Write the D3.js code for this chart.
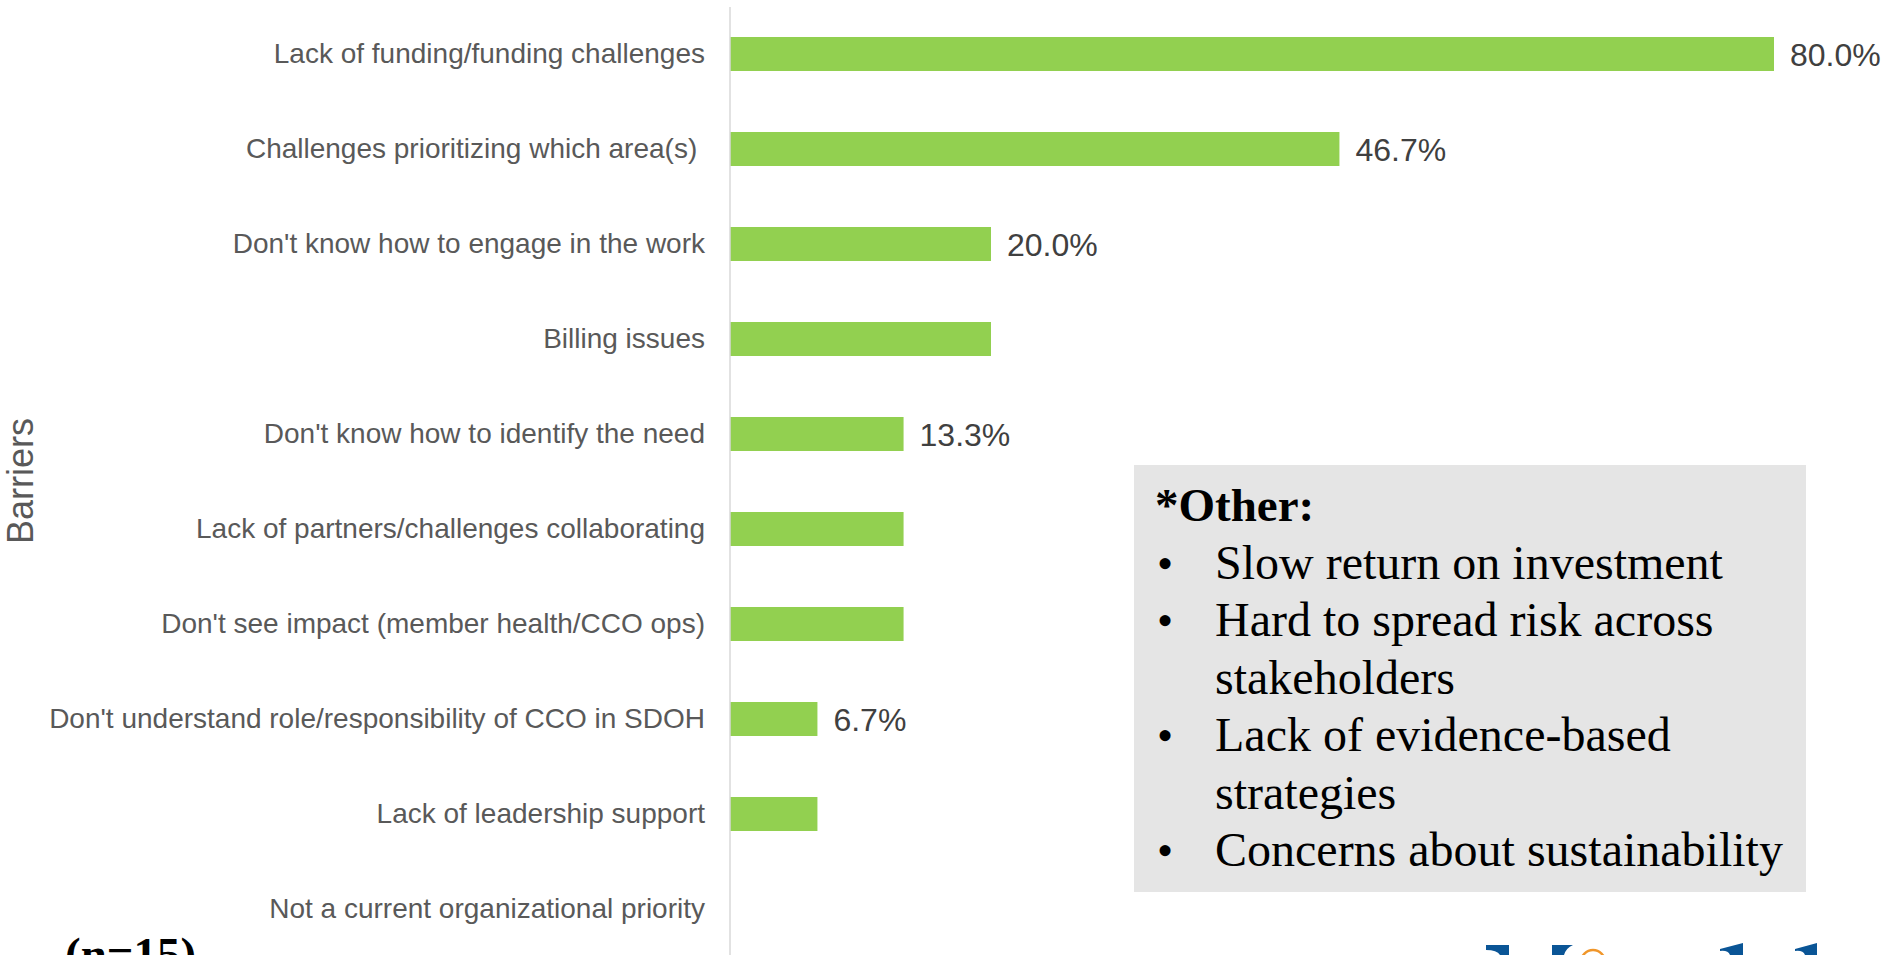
<!DOCTYPE html>
<html>
<head>
<meta charset="utf-8">
<script src="https://cdn.jsdelivr.net/npm/d3@7"></script>
<style>
  html, body { margin: 0; padding: 0; background: #fff; overflow: hidden; }
  svg { display: block; }
</style>
</head>
<body>
<div id="chart"></div>
<script>
// data
const categories = [
  "Lack of funding/funding challenges",
  "Challenges prioritizing which area(s) ",
  "Don't know how to engage in the work",
  "Billing issues",
  "Don't know how to identify the need",
  "Lack of partners/challenges collaborating",
  "Don't see impact (member health/CCO ops)",
  "Don't understand role/responsibility of CCO in SDOH",
  "Lack of leadership support",
  "Not a current organizational priority"
];
const values = [80.0, 46.7, 20.0, 20.0, 13.3, 13.3, 13.3, 6.7, 6.7, 0];
// only some bars carry a value label in the original
const showLabel = [true, true, true, false, true, false, false, true, false, false];

const otherTitle = "*Other:";
const otherItems = [
  ["Slow return on investment"],
  ["Hard to spread risk across", "stakeholders"],
  ["Lack of evidence-based", "strategies"],
  ["Concerns about sustainability"]
];
const sampleNote = "(n=15)";

// chart variables
const width = 1885;
const height = 955;

const svg = d3.select("#chart")
  .append("svg")
  .attr("width", width)
  .attr("height", height);

const x = d3.scaleLinear()
  .domain([0, 100])
  .range([730, 2035]);

const y = d3.scaleBand()
  .domain(categories)
  .range([6.5, 956.5])
  .paddingInner(0.642)
  .paddingOuter(0.321);

// bars
svg.append("g")
  .selectAll("rect")
  .data(values)
  .join("rect")
  .attr("x", x(0))
  .attr("y", (d, i) => y(categories[i]))
  .attr("width", d => x(d) - x(0))
  .attr("height", y.bandwidth())
  .attr("fill", "#92d050");

// vertical axis line
svg.append("line")
  .attr("x1", x(0)).attr("x2", x(0))
  .attr("y1", 7).attr("y2", height)
  .attr("stroke", "#d9d9d9")
  .attr("stroke-width", 1.5);

// category labels
svg.append("g")
  .attr("font-family", "Liberation Sans, Arial, sans-serif")
  .attr("font-size", 28)
  .attr("fill", "#595959")
  .attr("text-anchor", "end")
  .selectAll("text")
  .data(categories)
  .join("text")
  .attr("x", x(0) - 25)
  .attr("y", d => y(d) + y.bandwidth() / 2)
  .attr("dy", "0.32em")
  .style("white-space", "pre")
  .text(d => d);

// value labels
svg.append("g")
  .attr("font-family", "Liberation Sans, Arial, sans-serif")
  .attr("font-size", 32)
  .attr("fill", "#404040")
  .selectAll("text")
  .data(values.map((v, i) => ({v, i})).filter(d => showLabel[d.i]))
  .join("text")
  .attr("x", d => x(d.v) + 16)
  .attr("y", d => y(categories[d.i]) + y.bandwidth() / 2)
  .attr("dy", "0.36em")
  .text(d => d.v.toFixed(1) + "%");

// axis title
svg.append("text")
  .attr("transform", "translate(33,481) rotate(-90)")
  .attr("text-anchor", "middle")
  .attr("font-family", "Liberation Sans, Arial, sans-serif")
  .attr("font-size", 36)
  .attr("fill", "#595959")
  .text("Barriers");

// "Other" box
const box = svg.append("g");
box.append("rect")
  .attr("x", 1134).attr("y", 465)
  .attr("width", 672).attr("height", 427)
  .attr("fill", "#e5e5e5");

box.append("text")
  .attr("x", 1155).attr("y", 521)
  .attr("font-family", "Liberation Serif, Times New Roman, serif")
  .attr("font-weight", "bold")
  .attr("font-size", 47)
  .attr("fill", "#000")
  .text(otherTitle);

let line = 1;
otherItems.forEach(item => {
  item.forEach((t, j) => {
    const yy = 521 + line * 57.5;
    if (j === 0) {
      box.append("text")
        .attr("x", 1157).attr("y", yy)
        .attr("font-family", "Liberation Serif, Times New Roman, serif")
        .attr("font-size", 46)
        .text("\u2022");
    }
    box.append("text")
      .attr("x", 1215).attr("y", yy)
      .attr("font-family", "Liberation Serif, Times New Roman, serif")
      .attr("font-size", 48)
      .attr("fill", "#000")
      .text(t);
    line++;
  });
});

// sample size note (cut off at bottom edge, as in the original)
svg.append("text")
  .attr("x", 65).attr("y", 970)
  .attr("font-family", "Liberation Serif, Times New Roman, serif")
  .attr("font-weight", "bold")
  .attr("font-size", 47)
  .attr("fill", "#000")
  .text(sampleNote);

// partial logo peeking in at the bottom right
const logo = svg.append("g");
logo.append("path").attr("d", "M1486,945 H1509 V955 H1500 Q1497,950 1486,950 Z").attr("fill", "#0a5596");
logo.append("path").attr("d", "M1552,945 H1573 Q1566,948 1564,955 H1552 Z").attr("fill", "#0a5596");
logo.append("circle").attr("cx", 1593).attr("cy", 962).attr("r", 12)
  .attr("fill", "none").attr("stroke", "#f0962a").attr("stroke-width", 2.5);
logo.append("path").attr("d", "M1720,949 L1743,943 V955 H1730 Q1728,950 1720,951 Z").attr("fill", "#0a5596");
logo.append("path").attr("d", "M1795,949 L1817,943 V955 H1805 Q1803,950 1795,951 Z").attr("fill", "#0a5596");
</script>
</body>
</html>
